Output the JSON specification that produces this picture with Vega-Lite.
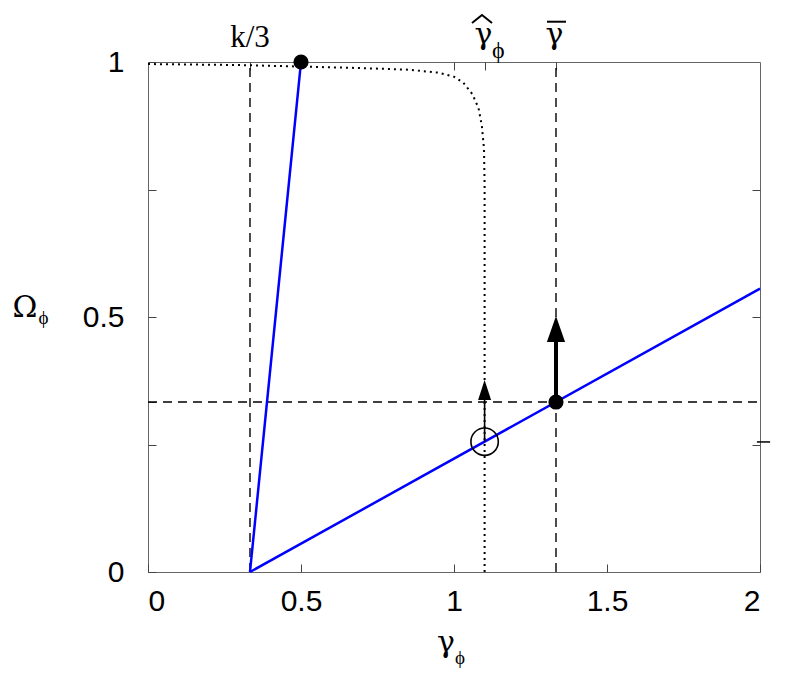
{
  "$schema": "https://vega.github.io/schema/vega-lite/v6.json",
  "width": 612,
  "height": 510,
  "autosize": {"type": "none"},
  "padding": {"left": 148, "top": 62, "right": 26, "bottom": 125},
  "background": "white",
  "config": {
    "view": {"stroke": "#666", "strokeWidth": 1},
    "axis": {"domain": false, "grid": false, "tickColor": "#444", "tickWidth": 1, "labelColor": "black", "labelFont": "Liberation Sans", "labelFontSize": 30, "title": null}
  },
  "datasets": {
    "dashed": [
      {"x": 0.3333, "y": 0, "x2": 0.3333, "y2": 1},
      {"x": 1.3333, "y": 0, "x2": 1.3333, "y2": 1},
      {"x": 0, "y": 0.3333, "x2": 2, "y2": 0.3333}
    ],
    "curve": [
      {"x": 0, "y": 0.996},
      {"x": 0.3, "y": 0.994},
      {"x": 0.5, "y": 0.991},
      {"x": 0.7, "y": 0.988},
      {"x": 0.85, "y": 0.985},
      {"x": 0.95, "y": 0.979},
      {"x": 1.0, "y": 0.971},
      {"x": 1.03, "y": 0.96},
      {"x": 1.06, "y": 0.937},
      {"x": 1.08, "y": 0.91},
      {"x": 1.091, "y": 0.875},
      {"x": 1.098, "y": 0.83},
      {"x": 1.1, "y": 0.76},
      {"x": 1.1, "y": 0}
    ],
    "blue": [
      {"s": "a", "x": 0.3333, "y": 0},
      {"s": "a", "x": 0.5, "y": 1},
      {"s": "b", "x": 0.3333, "y": 0},
      {"s": "b", "x": 2, "y": 0.5556}
    ],
    "thinShaft": [{"x": 1.1, "y": 0.2556, "y2": 0.345}],
    "thickShaft": [{"x": 1.3333, "y": 0.3333, "y2": 0.47}],
    "thinHead": [{"x": 1.1, "y": 0.3569}],
    "thickHead": [{"x": 1.3333, "y": 0.4765}],
    "dots": [{"x": 0.5, "y": 1}, {"x": 1.3333, "y": 0.3333}],
    "ring": [{"x": 1.1, "y": 0.2556}],
    "kText": [{"x": 0.3333, "y": 1.029, "t": "k/3"}],
    "greek": [
      {"x": 1.096, "y": 1.035, "t": "γ"},
      {"x": 1.3284, "y": 1.035, "t": "γ"},
      {"x": -0.402, "y": 0.5, "t": "Ω"},
      {"x": 0.974, "y": -0.157, "t": "γ"}
    ],
    "midText": [{"x": 1.145, "y": 1.008, "t": "ϕ"}],
    "smallText": [
      {"x": -0.3415, "y": 0.486, "t": "ϕ"},
      {"x": 1.02, "y": -0.18, "t": "ϕ"}
    ],
    "hat": [
      {"o": 1, "x": 1.0588, "y": 1.0765},
      {"o": 2, "x": 1.0915, "y": 1.0922},
      {"o": 3, "x": 1.1242, "y": 1.0765}
    ],
    "bar": [{"x": 1.304, "x2": 1.366, "y": 1.079}],
    "sideTick": [{"x": 1.99, "x2": 2.033, "y": 0.255}]
  },
  "resolve": {"axis": {"x": "independent", "y": "independent"}},
  "layer": [
    {
      "data": {"name": "dashed"},
      "mark": {"type": "rule", "color": "black", "strokeWidth": 1.4, "strokeDash": [9, 6]},
      "encoding": {
        "x": {"field": "x", "type": "quantitative", "scale": {"domain": [0, 2], "nice": false, "zero": false},
              "axis": {"orient": "bottom", "values": [0, 0.5, 1, 1.5, 2], "tickSize": -8, "labelPadding": 22,
                       "labelExpr": "datum.value == 0 ? '0' : datum.value == 0.5 ? '0.5' : datum.value == 1 ? '1' : datum.value == 1.5 ? '1.5' : '2'"}},
        "x2": {"field": "x2"},
        "y": {"field": "y", "type": "quantitative", "scale": {"domain": [0, 1], "nice": false, "zero": false},
              "axis": {"orient": "left", "values": [0, 0.25, 0.3333, 0.5, 0.75, 1], "tickSize": -8, "labelPadding": 32,
                       "labelExpr": "datum.value == 0 ? '0' : datum.value == 0.5 ? '0.5' : datum.value == 1 ? '1' : ''"}},
        "y2": {"field": "y2"}
      }
    },
    {
      "data": {"name": "curve"},
      "mark": {"type": "line", "color": "black", "strokeWidth": 2, "strokeDash": [2, 4]},
      "encoding": {
        "x": {"field": "x", "type": "quantitative", "axis": {"orient": "top", "values": [0.3333, 1, 1.1, 1.3333], "tickSize": -8, "labels": false}},
        "y": {"field": "y", "type": "quantitative", "axis": {"orient": "right", "values": [0.25, 0.5, 0.75], "tickSize": -8, "labels": false}},
        "order": {"field": "y", "sort": "descending"}
      }
    },
    {
      "data": {"name": "blue"},
      "mark": {"type": "line", "color": "#0000ff", "strokeWidth": 2.5},
      "encoding": {
        "x": {"field": "x", "type": "quantitative", "axis": null},
        "y": {"field": "y", "type": "quantitative", "axis": null},
        "detail": {"field": "s"}
      }
    },
    {
      "data": {"name": "thinShaft"},
      "mark": {"type": "rule", "color": "black", "strokeWidth": 1.6},
      "encoding": {
        "x": {"field": "x", "type": "quantitative", "axis": null},
        "y": {"field": "y", "type": "quantitative", "axis": null},
        "y2": {"field": "y2"}
      }
    },
    {
      "data": {"name": "thickShaft"},
      "mark": {"type": "rule", "color": "black", "strokeWidth": 4},
      "encoding": {
        "x": {"field": "x", "type": "quantitative", "axis": null},
        "y": {"field": "y", "type": "quantitative", "axis": null},
        "y2": {"field": "y2"}
      }
    },
    {
      "data": {"name": "thinHead"},
      "mark": {"type": "point", "shape": "M0,-1L0.65,1L-0.65,1Z", "filled": true, "color": "black", "opacity": 1, "size": 400, "strokeWidth": 0},
      "encoding": {
        "x": {"field": "x", "type": "quantitative", "axis": null},
        "y": {"field": "y", "type": "quantitative", "axis": null}
      }
    },
    {
      "data": {"name": "thickHead"},
      "mark": {"type": "point", "shape": "M0,-1L0.7,1L-0.7,1Z", "filled": true, "color": "black", "opacity": 1, "size": 676, "strokeWidth": 0},
      "encoding": {
        "x": {"field": "x", "type": "quantitative", "axis": null},
        "y": {"field": "y", "type": "quantitative", "axis": null}
      }
    },
    {
      "data": {"name": "ring"},
      "mark": {"type": "point", "shape": "circle", "filled": false, "color": "black", "opacity": 1, "size": 750, "strokeWidth": 1.6},
      "encoding": {
        "x": {"field": "x", "type": "quantitative", "axis": null},
        "y": {"field": "y", "type": "quantitative", "axis": null}
      }
    },
    {
      "data": {"name": "dots"},
      "mark": {"type": "point", "shape": "circle", "filled": true, "color": "black", "opacity": 1, "size": 230},
      "encoding": {
        "x": {"field": "x", "type": "quantitative", "axis": null},
        "y": {"field": "y", "type": "quantitative", "axis": null}
      }
    },
    {
      "data": {"name": "kText"},
      "mark": {"type": "text", "font": "Liberation Serif", "fontSize": 31, "color": "black", "align": "center", "baseline": "alphabetic"},
      "encoding": {
        "x": {"field": "x", "type": "quantitative", "axis": null},
        "y": {"field": "y", "type": "quantitative", "axis": null},
        "text": {"field": "t"}
      }
    },
    {
      "data": {"name": "greek"},
      "mark": {"type": "text", "font": "DejaVu Serif", "fontSize": 30, "color": "black", "align": "center", "baseline": "alphabetic"},
      "encoding": {
        "x": {"field": "x", "type": "quantitative", "axis": null},
        "y": {"field": "y", "type": "quantitative", "axis": null},
        "text": {"field": "t"}
      }
    },
    {
      "data": {"name": "midText"},
      "mark": {"type": "text", "font": "Liberation Serif", "fontSize": 24, "color": "black", "align": "center", "baseline": "alphabetic"},
      "encoding": {
        "x": {"field": "x", "type": "quantitative", "axis": null},
        "y": {"field": "y", "type": "quantitative", "axis": null},
        "text": {"field": "t"}
      }
    },
    {
      "data": {"name": "smallText"},
      "mark": {"type": "text", "font": "Liberation Serif", "fontSize": 19, "color": "black", "align": "center", "baseline": "alphabetic"},
      "encoding": {
        "x": {"field": "x", "type": "quantitative", "axis": null},
        "y": {"field": "y", "type": "quantitative", "axis": null},
        "text": {"field": "t"}
      }
    },
    {
      "data": {"name": "hat"},
      "mark": {"type": "line", "color": "black", "strokeWidth": 2},
      "encoding": {
        "x": {"field": "x", "type": "quantitative", "axis": null},
        "y": {"field": "y", "type": "quantitative", "axis": null},
        "order": {"field": "o"}
      }
    },
    {
      "data": {"name": "bar"},
      "mark": {"type": "rule", "color": "black", "strokeWidth": 2},
      "encoding": {
        "x": {"field": "x", "type": "quantitative", "axis": null},
        "x2": {"field": "x2"},
        "y": {"field": "y", "type": "quantitative", "axis": null}
      }
    },
    {
      "data": {"name": "sideTick"},
      "mark": {"type": "rule", "color": "black", "strokeWidth": 1.5},
      "encoding": {
        "x": {"field": "x", "type": "quantitative", "axis": null},
        "x2": {"field": "x2"},
        "y": {"field": "y", "type": "quantitative", "axis": null}
      }
    }
  ]
}
